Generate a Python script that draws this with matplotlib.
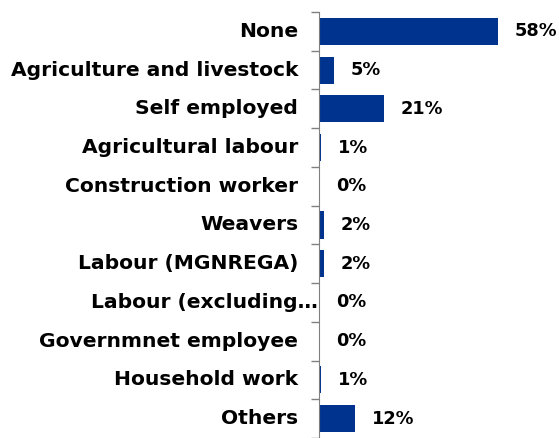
import numpy as np
import matplotlib.pyplot as plt

plt.rcParams['font.family'] = ['DejaVu Sans']
plt.rcParams['font.weight'] = 'bold'

categories = ['None', 'Agriculture and livestock', 'Self employed',
              'Agricultural labour', 'Construction worker', 'Weavers',
              'Labour (MGNREGA)', 'Labour (excluding\u2026',
              'Governmnet employee', 'Household work', 'Others']
shares = [58.0, 4.9, 21.0, 0.6, 0.0, 1.6, 1.7, 0.0, 0.0, 0.6, 11.7]

fig = plt.figure(figsize=(5.59, 4.38), dpi=100)
ax = fig.add_axes([319 / 559, 0, 240 / 559, 426 / 438])

y = np.arange(len(categories))
ax.barh(y, shares, height=0.7, color='#00338D')
ax.set_ylim(len(categories) - 0.5, -0.5)
ax.set_xlim(0, 58 * 240 / 178.7)

# value labels just past each bar
for yi, v in zip(y, shares):
    ax.annotate('%d%%' % round(v), xy=(v, yi), xytext=(12, 0),
                textcoords='offset points', va='center', ha='left',
                fontsize=12.8, fontweight='bold')

# category labels to the left of the axis line
for yi, name in zip(y, categories):
    pad = 0.5 if name.endswith('\u2026') else 15
    ax.annotate(name, xy=(0, yi), xytext=(-pad, 0),
                xycoords=('axes fraction', 'data'),
                textcoords='offset points', va='center', ha='right',
                fontsize=14.6, fontweight='bold', annotation_clip=False)

ax.set_yticks(np.arange(len(categories) + 1) - 0.5)
ax.set_yticklabels([])
ax.tick_params(axis='y', length=6, color='#808080', width=1)
ax.set_xticks([])

for s in ['top', 'right', 'bottom']:
    ax.spines[s].set_visible(False)
ax.spines['left'].set_color('#808080')

fig.savefig('out.png', dpi=100)
